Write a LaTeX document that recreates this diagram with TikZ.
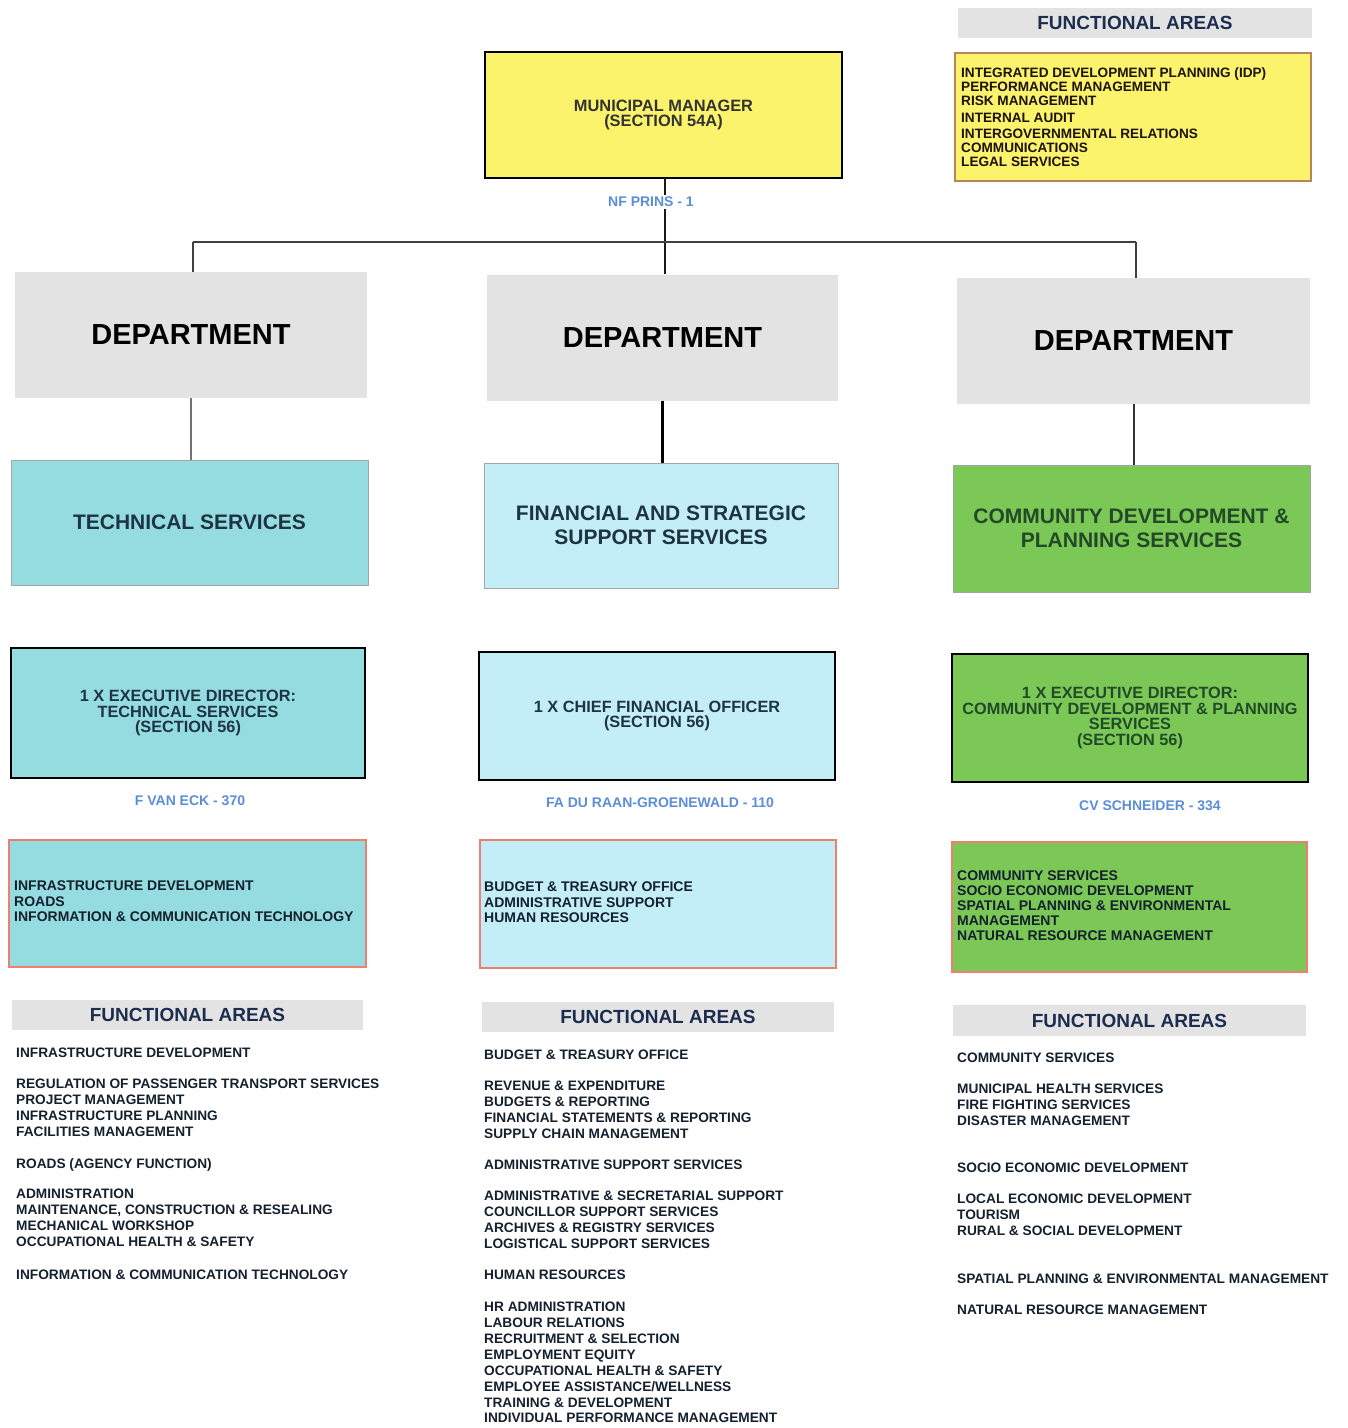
\documentclass[tikz,border=0pt]{standalone}
\usepackage{fontspec}
\setmainfont{Liberation Sans}
\definecolor{myyellow}{HTML}{FBF36C}
\definecolor{hdrgray}{HTML}{E3E3E3}
\definecolor{tsfill}{HTML}{95DCE1}
\definecolor{fsfill}{HTML}{C3EEF8}
\definecolor{cdfill}{HTML}{7BC857}
\definecolor{redline}{HTML}{EE7E70}
\definecolor{brownline}{HTML}{B8855A}
\definecolor{namelbl}{HTML}{5B8ED7}
\definecolor{navy}{HTML}{1D2D4F}
\definecolor{slate}{HTML}{1F3442}
\definecolor{dkgreen}{HTML}{234A28}
\definecolor{listtxt}{HTML}{15202E}
\begin{document}
\begin{tikzpicture}[x=1pt,y=-1pt,
  every node/.style={inner sep=0pt,font=\bfseries},
  hdr/.style={rectangle,fill=hdrgray,text=navy,font=\bfseries\fontsize{19}{22}\selectfont,minimum height=30},
  dept/.style={rectangle,fill=hdrgray,text=black,font=\bfseries\fontsize{29}{34}\selectfont,minimum height=126},
  svc/.style={rectangle,draw=gray!70,line width=1,align=center,font=\bfseries\fontsize{21}{24.5}\selectfont,minimum height=125},
  dirbox/.style={rectangle,draw=black,line width=2,align=center,font=\bfseries\fontsize{16.3}{15.5}\selectfont,minimum height=128},
  fabox/.style={rectangle,draw=redline,line width=1.5,minimum height=127},
  namelabel/.style={text=namelbl,font=\bfseries\fontsize{14}{15}\selectfont},
  list/.style={anchor=north west,align=left,text=listtxt,font=\bfseries\fontsize{13.7}{16}\selectfont},
  conn/.style={draw=black!75,line width=2}
]
\useasboundingbox (0,0) rectangle (1348,1428);

% top right functional areas
\node[hdr,minimum width=354] (fatop) at (1135,23) {FUNCTIONAL AREAS};
\node[rectangle,draw=brownline,fill=myyellow,line width=2,minimum width=356,minimum height=128] (fabox) at (1133,117) {};
\node[list,text=black!85!brown,font=\bfseries\fontsize{13.6}{14}\selectfont] (falist) at (961,67) {INTEGRATED DEVELOPMENT PLANNING (IDP)\\
PERFORMANCE MANAGEMENT\\
RISK MANAGEMENT\\[3pt]
INTERNAL AUDIT\\[2pt]
INTERGOVERNMENTAL RELATIONS\\
COMMUNICATIONS\\
LEGAL SERVICES};

% municipal manager
\node[rectangle,draw=black,fill=myyellow,line width=2,minimum width=357,minimum height=126,align=center,text=black!80,font=\bfseries\fontsize{16.4}{15}\selectfont] (mm) at (663.5,115) {MUNICIPAL MANAGER\\(SECTION 54A)};

% departments
\node[dept,minimum width=352] (dep1) at (191,335) {DEPARTMENT};
\node[dept,minimum width=351] (dep2) at (662.5,337.5) {DEPARTMENT};
\node[dept,minimum width=353] (dep3) at (1133.5,341) {DEPARTMENT};

% connectors from municipal manager
\coordinate (busL) at (193,242);
\coordinate (busR) at (1136,242);
\coordinate (midtop) at (665,178);
\draw[conn,draw=black!90] (midtop) -- (midtop |- dep2.north);
\draw[conn] (busL) -- (busR);
\draw[conn] (busL) -- (busL |- dep1.north);
\draw[conn] (busR) -- (busR |- dep3.north);
\node[namelabel,fill=white,inner sep=2pt] (prins) at (651,202) {NF PRINS - 1};

% services
\node[svc,fill=tsfill,text=slate,minimum width=357] (svc1) at (189.5,522.5) {TECHNICAL SERVICES};
\node[svc,fill=fsfill,text=slate,minimum width=354] (svc2) at (661,525.5) {FINANCIAL AND STRATEGIC\\SUPPORT SERVICES};
\node[svc,fill=cdfill,text=dkgreen,minimum width=357,minimum height=127] (svc3) at (1131.5,528.5) {COMMUNITY DEVELOPMENT \&\\PLANNING SERVICES};

\draw[draw=black!55,line width=1.5] (dep1.south) -- (dep1.south |- svc1.north);
\draw[draw=black,line width=3] (dep2.south) -- (dep2.south |- svc2.north);
\draw[draw=black!80,line width=2] (dep3.south) -- (dep3.south |- svc3.north);

% directors
\node[dirbox,fill=tsfill,text=slate,minimum width=354,minimum height=130] (dir1) at (188,713) {1 X EXECUTIVE DIRECTOR:\\TECHNICAL SERVICES\\(SECTION 56)};
\node[dirbox,fill=fsfill,text=slate,minimum width=356] (dir2) at (657,716) {1 X CHIEF FINANCIAL OFFICER\\(SECTION 56)};
\node[dirbox,fill=cdfill,text=dkgreen,minimum width=356] (dir3) at (1130,718) {1 X EXECUTIVE DIRECTOR:\\COMMUNITY DEVELOPMENT \& PLANNING\\SERVICES\\(SECTION 56)};

\node[namelabel] (name1) at (190,801) {F VAN ECK - 370};
\node[namelabel] (name2) at (660,803) {FA DU RAAN-GROENEWALD - 110};
\node[namelabel] (name3) at (1150,806) {CV SCHNEIDER - 334};

% functional area boxes
\node[fabox,fill=tsfill,minimum width=357] (fa1) at (187.5,903.5) {};
\node[list,font=\bfseries\fontsize{14}{15.5}\selectfont] (fa1txt) at (14,881) {INFRASTRUCTURE DEVELOPMENT\\ROADS\\INFORMATION \& COMMUNICATION TECHNOLOGY};
\node[fabox,fill=fsfill,minimum width=356,minimum height=128] (fa2) at (658,904) {};
\node[list,font=\bfseries\fontsize{14}{15.5}\selectfont] (fa2txt) at (484,882) {BUDGET \& TREASURY OFFICE\\ADMINISTRATIVE SUPPORT\\HUMAN RESOURCES};
\node[fabox,fill=cdfill,minimum width=355,minimum height=130] (fa3) at (1129.5,907) {};
\node[list,font=\bfseries\fontsize{14}{15}\selectfont] (fa3txt) at (957,871) {COMMUNITY SERVICES\\SOCIO ECONOMIC DEVELOPMENT\\SPATIAL PLANNING \& ENVIRONMENTAL\\MANAGEMENT\\NATURAL RESOURCE MANAGEMENT};

% bottom headers
\node[hdr,minimum width=351] (hdr1) at (187.5,1015) {FUNCTIONAL AREAS};
\node[hdr,minimum width=352] (hdr2) at (658,1017) {FUNCTIONAL AREAS};
\node[hdr,minimum width=353,minimum height=31] (hdr3) at (1129.5,1020.5) {FUNCTIONAL AREAS};

% bottom lists
\node[list] (list1) at (16,1048) {INFRASTRUCTURE DEVELOPMENT\\[15pt]
REGULATION OF PASSENGER TRANSPORT SERVICES\\
PROJECT MANAGEMENT\\
INFRASTRUCTURE PLANNING\\
FACILITIES MANAGEMENT\\[16pt]
ROADS (AGENCY FUNCTION)\\[14pt]
ADMINISTRATION\\
MAINTENANCE, CONSTRUCTION \& RESEALING\\
MECHANICAL WORKSHOP\\
OCCUPATIONAL HEALTH \& SAFETY\\[17pt]
INFORMATION \& COMMUNICATION TECHNOLOGY};

\node[list] (list2) at (484,1050) {BUDGET \& TREASURY OFFICE\\[15pt]
REVENUE \& EXPENDITURE\\
BUDGETS \& REPORTING\\
FINANCIAL STATEMENTS \& REPORTING\\
SUPPLY CHAIN MANAGEMENT\\[15pt]
ADMINISTRATIVE SUPPORT SERVICES\\[15pt]
ADMINISTRATIVE \& SECRETARIAL SUPPORT\\
COUNCILLOR SUPPORT SERVICES\\
ARCHIVES \& REGISTRY SERVICES\\
LOGISTICAL SUPPORT SERVICES\\[15pt]
HUMAN RESOURCES\\[16pt]
HR ADMINISTRATION\\
LABOUR RELATIONS\\
RECRUITMENT \& SELECTION\\
EMPLOYMENT EQUITY\\
OCCUPATIONAL HEALTH \& SAFETY\\
EMPLOYEE ASSISTANCE/WELLNESS\\[-0.5pt]
TRAINING \& DEVELOPMENT\\[-1pt]
INDIVIDUAL PERFORMANCE MANAGEMENT};

\node[list] (list3) at (957,1053) {COMMUNITY SERVICES\\[15pt]
MUNICIPAL HEALTH SERVICES\\
FIRE FIGHTING SERVICES\\
DISASTER MANAGEMENT\\[31pt]
SOCIO ECONOMIC DEVELOPMENT\\[15pt]
LOCAL ECONOMIC DEVELOPMENT\\
TOURISM\\
RURAL \& SOCIAL DEVELOPMENT\\[32pt]
SPATIAL PLANNING \& ENVIRONMENTAL MANAGEMENT\\[15pt]
NATURAL RESOURCE MANAGEMENT};
\end{tikzpicture}
\end{document}
